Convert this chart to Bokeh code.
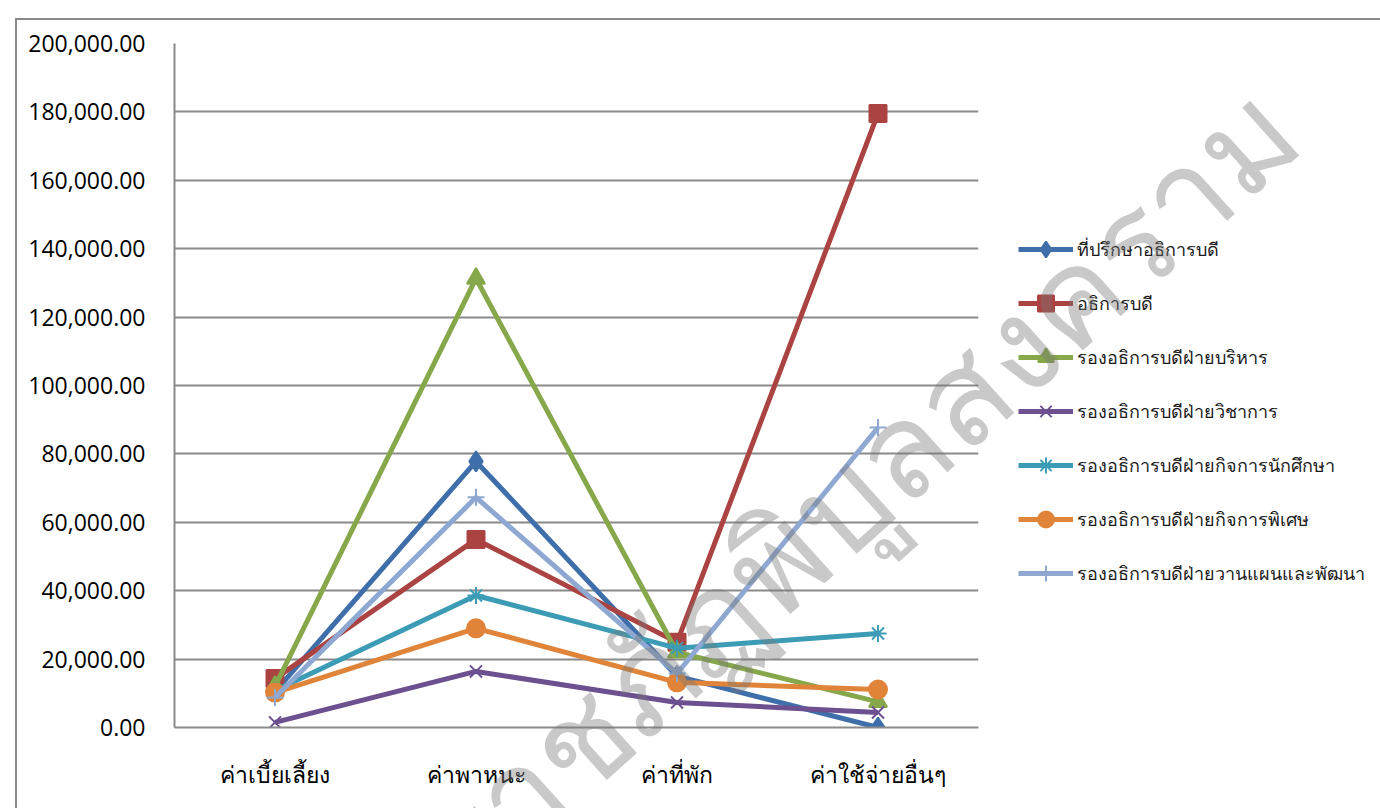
from bokeh.plotting import figure
from bokeh.layouts import column
from bokeh.models import (FactorRange, Range1d, NumeralTickFormatter, Legend, LegendItem,
                          FixedTicker, InlineStyleSheet, Div)
from bokeh.embed import file_html
from bokeh.resources import INLINE

categories = ["ค่าเบี้ยเลี้ยง", "ค่าพาหนะ", "ค่าที่พัก", "ค่าใช้จ่ายอื่นๆ"]
series_names = [
    "ที่ปรึกษาอธิการบดี",
    "อธิการบดี",
    "รองอธิการบดีฝ่ายบริหาร",
    "รองอธิการบดีฝ่ายวิชาการ",
    "รองอธิการบดีฝ่ายกิจการนักศึกษา",
    "รองอธิการบดีฝ่ายกิจการพิเศษ",
    "รองอธิการบดีฝ่ายวานแผนและพัฒนา",
]
advisor = [10500, 77800, 15000, 0]
president = [14300, 55000, 24900, 179500]
vp_admin = [12000, 131300, 22000, 7500]
vp_academic = [1500, 16400, 7300, 4400]
vp_student = [10800, 38600, 23200, 27500]
vp_special = [10200, 29000, 13200, 11100]
vp_planning = [8800, 67300, 15800, 87700]
y_ticks = [0, 20000, 40000, 60000, 80000, 100000, 120000, 140000, 160000, 180000, 200000]
watermark = "มหาวิทยาลัยราชภัฏพิบูลสงคราม"

series = [advisor, president, vp_admin, vp_academic, vp_student, vp_special, vp_planning]
colors = ["#3F6FAA", "#AA4341", "#86A84A", "#6C5090", "#3C9BB5", "#E0843A", "#8EA8D2"]
markers = ["diamond", "square", "triangle", "x", "asterisk", "circle", "cross"]
msizes = [20, 17, 18, 17, 17, 18, 17]

p = figure(frame_width=804, frame_height=684, x_range=FactorRange(*categories),
           y_range=Range1d(0, 200000), output_backend="svg", toolbar_location=None,
           min_border_left=174, min_border_right=0, min_border_top=43, min_border_bottom=81)
p.outline_line_color = None

p.yaxis.ticker = FixedTicker(ticks=y_ticks)
p.yaxis.formatter = NumeralTickFormatter(format="0,0.00")
for ax in (p.xaxis[0], p.yaxis[0]):
    ax.axis_line_color = "#8a8a8a"
    ax.axis_line_width = 2
    ax.major_tick_line_color = None
    ax.minor_tick_line_color = None
    ax.major_label_text_font = "Open Sans"
    ax.major_label_text_font_size = "23px"
    ax.major_label_text_color = "#000000"
p.yaxis.major_label_standoff = 23
p.xaxis.major_label_standoff = 24
p.xgrid.grid_line_color = None
p.ygrid.grid_line_color = "#8a8a8a"
p.ygrid.grid_line_width = 2

items = []
for name, vals, c, m, s in zip(series_names, series, colors, markers, msizes):
    ln = p.line(categories, vals, line_color=c, line_width=5)
    sc = p.scatter(categories, vals, marker=m, size=s, fill_color=c, line_color=c, line_width=2)
    items.append(LegendItem(label=name, renderers=[ln, sc]))

legend = Legend(items=items, location=(40, 134), glyph_width=55, glyph_height=40,
                label_height=20, spacing=14, padding=0, margin=0,
                label_text_font="Noto Sans", label_text_font_size="18px",
                label_text_color="#1a1a1a", label_standoff=4,
                border_line_color=None, background_fill_alpha=0)
p.add_layout(legend, "right")

overlay_html = (
    '<div style="position:absolute;left:0;top:0;width:1380px;height:808px;overflow:hidden;pointer-events:none;">'
    '<div style="position:absolute;left:10px;top:13px;width:1367px;height:820px;'
    'border:2px solid #8a8a8a;box-sizing:border-box;"></div>'
    '<div style="position:absolute;right:110px;top:38px;white-space:nowrap;font-family:\'Noto Sans\',sans-serif;'
    'font-size:132px;line-height:132px;font-weight:400;color:rgba(120,120,120,0.4);'
    'transform:rotate(-42deg);transform-origin:100% 50%;">' + watermark + '</div>'
    '</div>'
)
overlay = Div(text=overlay_html, width=1380, height=808,
              stylesheets=[InlineStyleSheet(css=":host{position:absolute !important;left:0 !important;"
                                                "top:0 !important;pointer-events:none;z-index:10;overflow:hidden;}")])

layout = column(p, overlay, stylesheets=[InlineStyleSheet(css=":host{position:relative;}")])

open("out.html", "w").write(file_html(layout, INLINE))
